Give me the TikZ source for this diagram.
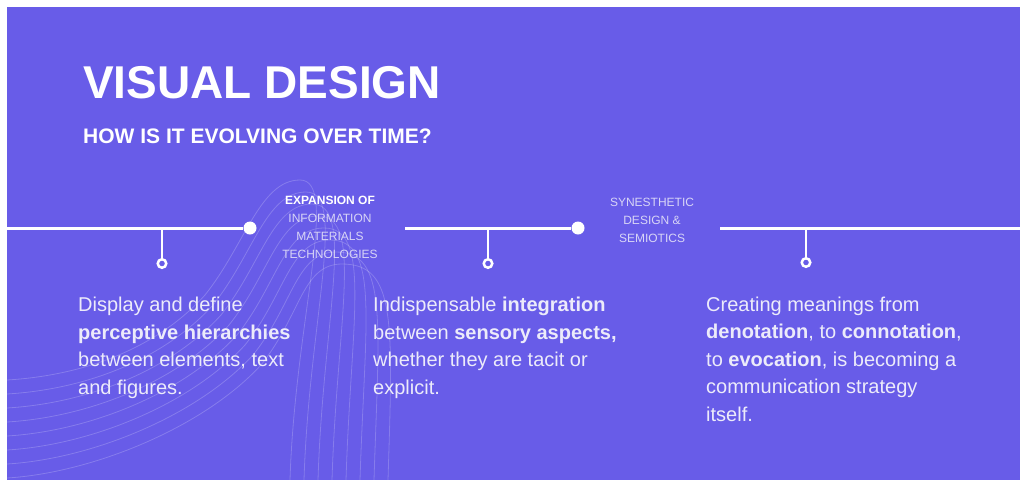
\documentclass[tikz,border=0pt]{standalone}
\usepackage{fontspec}
\setmainfont{Liberation Sans}
\usetikzlibrary{positioning}
\definecolor{violetbg}{RGB}{104,92,232}
\definecolor{softwhite}{RGB}{236,235,250}
\definecolor{paletext}{RGB}{216,213,246}

\begin{document}
\begin{tikzpicture}[x=1pt,y=-1pt,
  tl/.style={line width=3pt,white},
  dot/.style={circle,fill=white,inner sep=0pt,minimum size=13pt},
  ring/.style={circle,draw=white,line width=2.5pt,inner sep=0pt,minimum size=8.5pt},
  era/.style={align=center,text=paletext,font=\fontsize{12}{17.7}\selectfont,inner sep=0pt,anchor=base},
  body/.style={align=left,text=softwhite,font=\fontsize{20}{27.5}\selectfont,inner sep=0pt,anchor=base west},
  contour/.style={white,opacity=0.2,line width=0.8pt}]
	\useasboundingbox (0,0) rectangle (1025,480);
	\fill[white] (0,0) rectangle (1025,480);
	\fill[violetbg] (7,7) rectangle (1020,480);
	% faint contour lines
	\begin{scope}
		\clip (7,7) rectangle (1020,480);
		\foreach \i in {0,...,7}
			\draw[contour] (7,{380+14*\i}) .. controls (90,{375+14*\i}) and ({160+6*\i},{345+12*\i}) .. ({205+8*\i},{295+10*\i})
				.. controls ({245+8*\i},{245+10*\i}) and ({260+6*\i},{180+12*\i}) .. ({300+6*\i},{180+12*\i})
				.. controls ({340+8*\i},{180+12*\i}) and ({295+14*\i},320) .. ({290+14*\i},480);
	\end{scope}

	\node[anchor=base west,inner sep=0pt,text=white,font=\fontsize{46}{50}\selectfont\bfseries] (title) at (83,98) {VISUAL DESIGN};
	\node[anchor=base west,inner sep=0pt,text=white,font=\fontsize{21}{24}\selectfont\bfseries] (sub) at (83,143) {HOW IS IT EVOLVING OVER TIME?};

	\coordinate (a0) at (7,228);
	\node[dot] (d1) at (250,228) {};
	\draw[tl] (a0) -- (d1);
	\coordinate (a1) at (405,228);
	\node[dot] (d2) at (578,228) {};
	\draw[tl] (a1) -- (d2);
	\coordinate (a2) at (720,228);
	\coordinate (a3) at (1020,228);
	\draw[tl] (a2) -- (a3);

	\coordinate (t1) at (162,228);
	\coordinate (t2) at (488,228);
	\coordinate (t3) at (806,228);
	\node[ring,below=30pt of t1] (r1) {};
	\node[ring,below=30pt of t2] (r2) {};
	\node[ring,below=29pt of t3] (r3) {};
	\draw[white,line width=2.5pt] (t1) -- (r1);
	\draw[white,line width=2.5pt] (t2) -- (r2);
	\draw[white,line width=2.5pt] (t3) -- (r3);

	% base = last line
	\node[era] (exp) at (330,258) {\textcolor{white}{\bfseries EXPANSION OF}\\INFORMATION\\MATERIALS\\TECHNOLOGIES};
	\node[era] (syn) at (652,242) {SYNESTHETIC\\DESIGN \&\\SEMIOTICS};

	\node[body] (b1) at (78,394) {Display and define\\\textbf{perceptive hierarchies}\\between elements, text\\and figures.};
	\node[body] (b2) at (373,394) {Indispensable \textbf{integration}\\between \textbf{sensory aspects,}\\whether they are tacit or\\explicit.};
	\node[body] (b3) at (706,421) {Creating meanings from\\\textbf{denotation}, to \textbf{connotation},\\to \textbf{evocation}, is becoming a\\communication strategy\\itself.};
\end{tikzpicture}
\end{document}
